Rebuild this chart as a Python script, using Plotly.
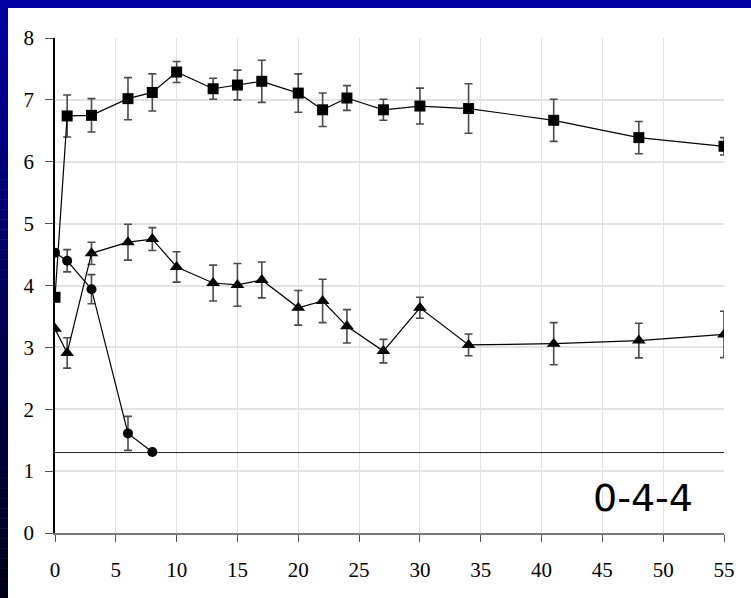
import plotly.graph_objects as go

# ---- data ----
days_sq = [0, 1, 3, 6, 8, 10, 13, 15, 17, 20, 22, 24, 27, 30, 34, 41, 48, 55]
sq_vals = [3.81, 6.74, 6.75, 7.02, 7.12, 7.45, 7.18, 7.24, 7.30, 7.11, 6.84, 7.03, 6.84, 6.90, 6.86, 6.67, 6.39, 6.25]
sq_err = [0, 0.34, 0.27, 0.34, 0.30, 0.17, 0.17, 0.24, 0.34, 0.31, 0.27, 0.20, 0.17, 0.29, 0.40, 0.34, 0.26, 0.14]

days_tri = [0, 1, 3, 6, 8, 10, 13, 15, 17, 20, 22, 24, 27, 30, 34, 41, 48, 55]
tri_vals = [3.30, 2.91, 4.52, 4.70, 4.75, 4.30, 4.04, 4.01, 4.09, 3.64, 3.75, 3.34, 2.94, 3.64, 3.04, 3.06, 3.11, 3.21]
tri_err = [0, 0.245, 0.18, 0.29, 0.185, 0.245, 0.29, 0.345, 0.29, 0.28, 0.35, 0.27, 0.19, 0.17, 0.175, 0.34, 0.28, 0.375]

days_circ = [0, 1, 3, 6, 8]
circ_vals = [4.53, 4.40, 3.94, 1.61, 1.31]
circ_err = [0, 0.18, 0.235, 0.275, 0]

detection_limit = 1.3
x_range = [0, 55]
y_range = [0, 8]
x_ticks = [0, 5, 10, 15, 20, 25, 30, 35, 40, 45, 50, 55]
y_ticks = [0, 1, 2, 3, 4, 5, 6, 7, 8]
label_text = "0-4-4"

# ---- figure ----
W, H = 751, 598
ML, MR, MT, MB = 55, 27, 38, 65
pw, ph = W - ML - MR, H - MT - MB

def px2paper_x(px):
    return (px - ML) / pw

def px2paper_y(py):
    return (H - MB - py) / ph

fig = go.Figure()

err_style = dict(type="data", visible=True, color="#4a4a4a", thickness=1.6, width=4)

fig.add_trace(go.Scatter(
    x=x_range, y=[detection_limit, detection_limit], mode="lines",
    line=dict(color="#222222", width=1), hoverinfo="skip", showlegend=False))

fig.add_trace(go.Scatter(
    x=days_sq, y=sq_vals, mode="lines+markers",
    line=dict(color="black", width=1.2),
    marker=dict(symbol="square", size=11, color="black"),
    error_y=dict(array=sq_err, **err_style), showlegend=False))

fig.add_trace(go.Scatter(
    x=days_tri, y=tri_vals, mode="lines+markers",
    line=dict(color="black", width=1.2),
    marker=dict(symbol="triangle-up", size=12, color="black"),
    error_y=dict(array=tri_err, **err_style), showlegend=False))

fig.add_trace(go.Scatter(
    x=days_circ, y=circ_vals, mode="lines+markers",
    line=dict(color="black", width=1.2),
    marker=dict(symbol="circle", size=10, color="black"),
    error_y=dict(array=circ_err, **err_style), showlegend=False))

# decorative slide frame: top band and left gradient band
shapes = []
band = 8
shapes.append(dict(type="rect", xref="paper", yref="paper",
                   x0=px2paper_x(0), x1=px2paper_x(W), y0=px2paper_y(0), y1=px2paper_y(band),
                   fillcolor="#0000A0", line=dict(width=0), layer="above"))
n = 60
top_c = (0, 0, 160)
bot_c = (0, 0, 24)
for i in range(n):
    t = i / (n - 1)
    c = tuple(int(round(top_c[k] + (bot_c[k] - top_c[k]) * t)) for k in range(3))
    y0 = H * i / n
    y1 = H * (i + 1) / n + 0.5
    shapes.append(dict(type="rect", xref="paper", yref="paper",
                       x0=px2paper_x(0), x1=px2paper_x(band),
                       y0=px2paper_y(y1), y1=px2paper_y(y0),
                       fillcolor="rgb(%d,%d,%d)" % c, line=dict(width=0), layer="above"))

fig.update_layout(
    width=W, height=H,
    margin=dict(l=ML, r=MR, t=MT, b=MB),
    paper_bgcolor="white", plot_bgcolor="white",
    font=dict(family="'Liberation Serif', 'Times New Roman', 'DejaVu Serif', serif"),
    shapes=shapes,
    annotations=[dict(text=label_text, xref="paper", yref="paper",
                      x=px2paper_x(695), y=px2paper_y(498), xanchor="right", yanchor="middle",
                      showarrow=False, font=dict(family="'DejaVu Sans', Verdana, sans-serif", size=38, color="black"))],
)

axis_font = dict(family="'Liberation Serif', 'Times New Roman', 'DejaVu Serif', serif", size=21, color="black")
fig.update_xaxes(range=x_range, tickvals=x_ticks, showgrid=True, gridcolor="#e3e3e3", gridwidth=1,
                 zeroline=False, showline=True, linecolor="#777777", linewidth=1.5,
                 ticks="outside", ticklen=7, tickcolor="#555555", tickwidth=1.2,
                 tickfont=axis_font, ticklabelstandoff=10)
fig.update_yaxes(range=y_range, tickvals=y_ticks, showgrid=True, gridcolor="#e3e3e3", gridwidth=1.5,
                 zeroline=False, showline=True, linecolor="black", linewidth=1.5,
                 ticks="outside", ticklen=8, tickcolor="#555555", tickwidth=1.2,
                 tickfont=axis_font, ticklabelstandoff=7)

fig.write_html("out.html", config={"displayModeBar": False},
               post_script="document.body.style.margin='0px';document.body.style.overflow='hidden';")
